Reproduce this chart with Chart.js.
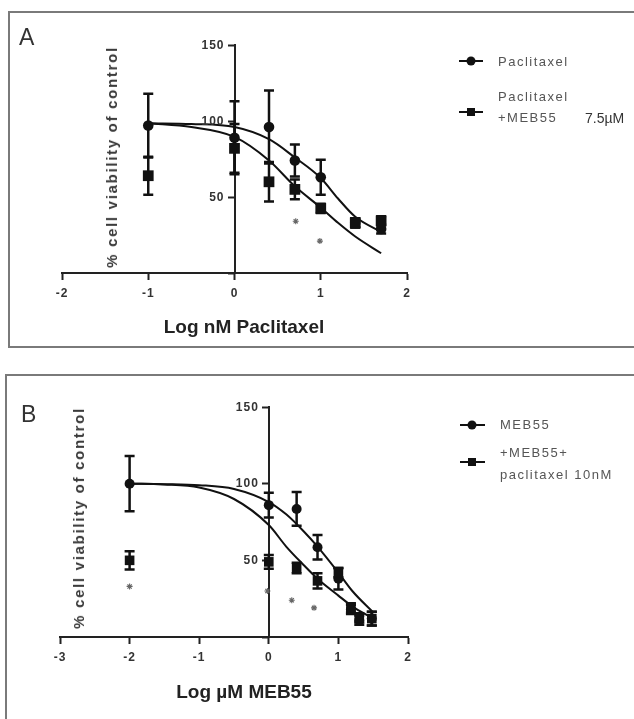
<!DOCTYPE html>
<html>
<head>
<meta charset="utf-8">
<script src="https://cdn.jsdelivr.net/npm/chart.js@4.4.1/dist/chart.umd.min.js"></script>
<style>
  html, body { margin: 0; padding: 0; background: #fff; }
  body { width: 634px; height: 719px; position: relative; overflow: hidden; font-family: "Liberation Sans", Arial, sans-serif; }
  .frame { position: absolute; box-sizing: border-box; border: 2px solid #7a7a7a; background: transparent; }
  canvas { position: absolute; left: 0; }
  .t { position: absolute; white-space: nowrap; transform: translate(0, -50%); line-height: 1.2; }
  .letter { font-size: 23px; color: #333; }
  .leg { font-size: 13px; color: #555; letter-spacing: 1.5px; }
  .xt { font-size: 19px; font-weight: bold; color: #222; transform: translate(-50%, -50%); }
  .yt { font-size: 15px; font-weight: bold; color: #3a3a3a; letter-spacing: 1.7px; transform: translate(-50%, -50%) rotate(-90deg); }
  .lline { position: absolute; height: 2px; background: #111; }
  .lcirc { position: absolute; width: 9px; height: 9px; border-radius: 50%; background: #111; transform: translate(-50%, -50%); }
  .lsq { position: absolute; width: 8px; height: 8px; background: #111; transform: translate(-50%, -50%); }
</style>
</head>
<body>
<div class="frame" style="left:8px; top:11px; width:700px; height:337px;"></div>
<div class="frame" style="left:5px; top:374px; width:700px; height:400px;"></div>

<canvas id="chartA" width="634" height="360" style="top:0;"></canvas>
<canvas id="chartB" width="634" height="359" style="top:360px;"></canvas>

<!-- panel letters -->
<div class="t letter" style="left:19px; top:38px;">A</div>
<div class="t letter" style="left:21px; top:415px;">B</div>

<!-- axis titles -->
<div class="t xt" style="left:244px; top:327px;">Log nM Paclitaxel</div>
<div class="t yt" style="left:112px; top:157px;">% cell viability of control</div>
<div class="t xt" style="left:244px; top:692px;">Log µM MEB55</div>
<div class="t yt" style="left:79px; top:518px;">% cell viability of control</div>

<!-- legend A -->
<div class="lline" style="left:459px; top:60px; width:24px;"></div>
<div class="lcirc" style="left:471px; top:61px;"></div>
<div class="t leg" style="left:498px; top:62px;">Paclitaxel</div>
<div class="lline" style="left:459px; top:111px; width:24px;"></div>
<div class="lsq" style="left:471px; top:112px;"></div>
<div class="t leg" style="left:498px; top:97px;">Paclitaxel</div>
<div class="t leg" style="left:498px; top:118px;">+MEB55</div>
<div class="t" style="left:585px; top:118px; font-size:14px; color:#333;">7.5µM</div>

<!-- legend B -->
<div class="lline" style="left:460px; top:424px; width:25px;"></div>
<div class="lcirc" style="left:472px; top:425px;"></div>
<div class="t leg" style="left:500px; top:425px;">MEB55</div>
<div class="lline" style="left:460px; top:461px; width:25px;"></div>
<div class="lsq" style="left:472px; top:462px;"></div>
<div class="t leg" style="left:500px; top:453px;">+MEB55+</div>
<div class="t leg" style="left:500px; top:475px;">paclitaxel 10nM</div>

<script>
// ---------- Panel A data (log nM paclitaxel) ----------
const xA = [-1, 0, 0.4, 0.7, 1, 1.4, 1.7];
const paclitaxel = [97, 89, 96, 74, 63, 33, 29];
const paclitaxelErr = [21, 24, 24, 10.5, 11.5, 3, 3];
const paclitaxelMeb = [64, 82, 60, 55, 42.5, 33, 34.3];
const paclitaxelMebErr = [12.5, 16, 13, 6.5, 3, 3, 3];
const starsAx = [0.71, 0.99];
const starsAy = [34, 21];
const curveAx = [-1, -0.5, 0, 0.4, 0.7, 1, 1.2, 1.4, 1.7];
const curveAupper = [98.5, 98, 96, 88, 76, 62.5, 49, 37, 27];
const curveAlower = [98.5, 96, 89.5, 74, 57, 43, 33, 24, 13];
const ticksAx = [-2, -1, 0, 1, 2];

// ---------- Panel B data (log µM MEB55) ----------
const xB = [-2, 0, 0.4, 0.7, 1, 1.18, 1.3, 1.48];
const meb55 = [100, 86, 83.5, 58.5, 38, 18, 11, 12];
const meb55Err = [18, 8, 11, 8, 7, 3, 3, 4.5];
const mebPac = [50, 49, 45, 36.6, 42, 19, 12.5, 12];
const mebPacErr = [6, 4.5, 3.5, 5, 3, 3, 3, 4.5];
const starsBx = [-2, -0.02, 0.33, 0.65];
const starsBy = [33, 30, 24, 19];
const curveBx = [-2, -1.5, -1, -0.5, 0, 0.25, 0.5, 0.7, 1, 1.2, 1.5];
const curveBupper = [100, 99.7, 99, 96.5, 88, 80, 69, 59, 42, 30, 16];
const curveBlower = [100, 99.5, 97.5, 90, 73, 59, 47, 38, 27, 20, 12];
const ticksBx = [-3, -2, -1, 0, 1, 2];

const yTicks = [0, 50, 100, 150];

const pts = (xs, ys) => xs.map((x, i) => ({ x: x, y: ys[i] }));
const TICK_FONT = 'bold 12px "Liberation Sans", Arial, sans-serif';

const errorBarPlugin = {
  id: 'errorBars',
  beforeDatasetsDraw(chart) {
    const { ctx, scales: { x, y } } = chart;
    chart.data.datasets.forEach((ds) => {
      if (!ds.errors) return;
      ctx.save();
      ctx.strokeStyle = '#111';
      ctx.lineWidth = 2.5;
      ds.data.forEach((p, j) => {
        const e = ds.errors[j];
        if (!e) return;
        const px = x.getPixelForValue(p.x);
        const top = y.getPixelForValue(p.y + e);
        const bot = y.getPixelForValue(p.y - e);
        const cw = ds.capHalf || 5;
        ctx.beginPath();
        ctx.moveTo(px, top); ctx.lineTo(px, bot);
        ctx.moveTo(px - cw, top); ctx.lineTo(px + cw, top);
        ctx.moveTo(px - cw, bot); ctx.lineTo(px + cw, bot);
        ctx.stroke();
      });
      ctx.restore();
    });
  }
};

// y tick labels placed left of the crossing y axis (x = 0), from the y scale's own ticks
const yLabelPlugin = {
  id: 'yLabels',
  afterDraw(chart) {
    const { ctx, scales: { x, y } } = chart;
    const axisX = x.getPixelForValue(0);
    ctx.save();
    ctx.letterSpacing = '1px';
    ctx.font = TICK_FONT;
    ctx.fillStyle = '#333';
    ctx.textAlign = 'right';
    ctx.textBaseline = 'middle';
    y.ticks.forEach((t) => {
      if (t.value === 0) return;
      ctx.fillText(String(t.value), axisX - 6 - 4, y.getPixelForValue(t.value) + 0.5);
    });
    ctx.restore();
  }
};

const spacingPlugin = {
  id: 'spacing',
  beforeDraw(chart) { chart.ctx.letterSpacing = '1px'; },
  afterDraw(chart) { chart.ctx.letterSpacing = '0px'; }
};

function buildChart(id, cfg) {
  const tickFont = { family: 'Liberation Sans', size: 12, weight: 'bold' };
  return new Chart(document.getElementById(id), {
    type: 'scatter',
    data: {
      datasets: [
        {
          label: cfg.sqLabel, data: pts(cfg.x, cfg.sq), errors: cfg.sqErr, capHalf: 5,
          pointStyle: 'rect', pointRadius: cfg.sqR, backgroundColor: '#111', borderColor: '#111', borderWidth: 0,
          showLine: false, order: 1
        },
        {
          label: cfg.ciLabel, data: pts(cfg.x, cfg.ci), errors: cfg.ciErr, capHalf: 5,
          pointStyle: 'circle', pointRadius: cfg.ciR, backgroundColor: '#111', borderColor: '#111', borderWidth: 0,
          showLine: false, order: 2
        },
        {
          label: 'fit 1', data: pts(cfg.cx, cfg.cu), showLine: true, pointRadius: 0,
          borderColor: '#111', borderWidth: 2, cubicInterpolationMode: 'monotone', order: 3
        },
        {
          label: 'fit 2', data: pts(cfg.cx, cfg.cl), showLine: true, pointRadius: 0,
          borderColor: '#111', borderWidth: 2, cubicInterpolationMode: 'monotone', order: 4
        },
        {
          label: 'p<0.05', data: pts(cfg.sx, cfg.sy), pointStyle: 'star', pointRadius: 3,
          borderColor: '#666', borderWidth: 1.1, backgroundColor: '#666', showLine: false, order: 0
        }
      ]
    },
    options: {
      responsive: false,
      animation: false,
      events: [],
      layout: { padding: cfg.padding },
      plugins: { legend: { display: false }, tooltip: { enabled: false } },
      scales: {
        x: {
          type: 'linear', min: cfg.xmin, max: cfg.xmax, position: { y: 0 },
          afterBuildTicks: (s) => { s.ticks = cfg.xticks.map(v => ({ value: v })); },
          ticks: { font: tickFont, color: '#333', padding: 7, autoSkip: false, maxRotation: 0 },
          grid: { display: true, drawOnChartArea: false, drawTicks: true, tickLength: 6, tickWidth: 2, color: '#222' },
          border: { display: true, color: '#222', width: 2 }
        },
        y: {
          type: 'linear', min: 0, max: 150, position: { x: 0 },
          afterBuildTicks: (s) => { s.ticks = yTicks.map(v => ({ value: v })); },
          ticks: { display: false },
          grid: { display: true, drawOnChartArea: false, drawTicks: true, tickLength: 6, tickWidth: 2, color: '#222' },
          border: { display: true, color: '#222', width: 2 }
        }
      }
    },
    plugins: [errorBarPlugin, spacingPlugin, yLabelPlugin]
  });
}

buildChart('chartA', {
  x: xA, ci: paclitaxel, ciErr: paclitaxelErr, sq: paclitaxelMeb, sqErr: paclitaxelMebErr,
  ciLabel: 'Paclitaxel', sqLabel: 'Paclitaxel +MEB55 7.5µM',
  cx: curveAx, cu: curveAupper, cl: curveAlower, sx: starsAx, sy: starsAy,
  xmin: -2, xmax: 2, xticks: ticksAx, sqR: 7.6, ciR: 5.3,
  padding: { left: 62, right: 227, top: 45, bottom: 87 }
});

buildChart('chartB', {
  x: xB, ci: meb55, ciErr: meb55Err, sq: mebPac, sqErr: mebPacErr,
  ciLabel: 'MEB55', sqLabel: '+MEB55+ paclitaxel 10nM',
  cx: curveBx, cu: curveBupper, cl: curveBlower, sx: starsBx, sy: starsBy,
  xmin: -3, xmax: 2, xticks: ticksBx, sqR: 6.8, ciR: 5,
  padding: { left: 60, right: 226, top: 47, bottom: 82 }
});
</script>
</body>
</html>
